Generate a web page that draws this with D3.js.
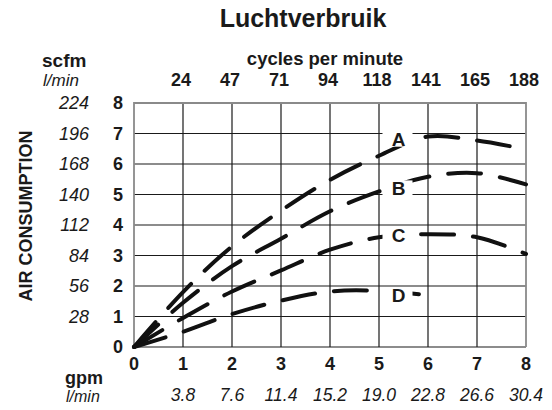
<!DOCTYPE html>
<html>
<head>
<meta charset="utf-8">
<script src="https://cdn.jsdelivr.net/npm/d3@7"></script>
<style>
body { margin: 0; background: #fff; }
text { font-family: "Liberation Sans", Arial, Helvetica, sans-serif; fill: #1a1a1a; }
</style>
</head>
<body>
<svg id="chart"></svg>
<script>
var gpm = [0, 1, 2, 3, 4, 5, 6, 7, 8];
var gpmLpm = ["3.8", "7.6", "11.4", "15.2", "19.0", "22.8", "26.6", "30.4"];
var cpm = ["24", "47", "71", "94", "118", "141", "165", "188"];
var scfm = [0, 1, 2, 3, 4, 5, 6, 7, 8];
var scfmLpm = ["28", "56", "84", "112", "140", "168", "196", "224"];

var curveA = [0, 1.8, 3.3, 4.47, 5.48, 6.27, 6.9, 6.77, 6.48];
var curveB = [0, 1.45, 2.65, 3.55, 4.45, 5.1, 5.58, 5.7, 5.33];
var curveC = [0, 0.95, 1.82, 2.51, 3.19, 3.6, 3.7, 3.6, 3.05];
var curveD = [0, 0.5, 1.08, 1.52, 1.82, 1.84, 1.7];

var labels = [
    {name: "A", x: 5.5, y: 6.83},
    {name: "B", x: 5.5, y: 5.2},
    {name: "C", x: 5.5, y: 3.66},
    {name: "D", x: 5.5, y: 1.69}
];

var width = 552;
var height = 410;

var svg = d3.select("svg#chart")
    .attr("width", width)
    .attr("height", height);

var x = d3.scaleLinear().domain([0, 8]).range([134, 526]);
var y = d3.scaleLinear().domain([0, 8]).range([347, 103]);

// grid
var grid = svg.append("g");
grid.selectAll("line.v")
    .data(gpm.slice(1, 8))
    .enter().append("line")
    .attr("x1", function(d) { return x(d); })
    .attr("x2", function(d) { return x(d); })
    .attr("y1", y(0))
    .attr("y2", y(8))
    .style("stroke", "#1a1a1a")
    .style("stroke-width", 1.2);
grid.selectAll("line.h")
    .data(scfm.slice(0, 8))
    .enter().append("line")
    .attr("x1", x(0))
    .attr("x2", x(8))
    .attr("y1", function(d) { return y(d); })
    .attr("y2", function(d) { return y(d); })
    .style("stroke", "#1a1a1a")
    .style("stroke-width", 1.2);
// frame left / top / right
svg.append("path")
    .attr("d", "M" + x(0) + "," + y(0) + "V" + y(8) + "H" + x(8) + "V" + y(0))
    .style("fill", "none")
    .style("stroke", "#8a8a8a")
    .style("stroke-width", 1.8);

// curves
var line = d3.line()
    .x(function(d, i) { return x(i); })
    .y(function(d) { return y(d); })
    .curve(d3.curveCatmullRom);

[curveA, curveB, curveC, curveD].forEach(function(c) {
    svg.append("path")
        .attr("d", line(c))
        .style("fill", "none")
        .style("stroke", "#111")
        .style("stroke-width", 4)
        .style("stroke-linecap", "round")
        .style("stroke-dasharray", "33,19");
});

// curve labels
labels.forEach(function(l) {
    svg.append("rect")
        .attr("x", x(l.x) - 21)
        .attr("y", y(l.y) - 8)
        .attr("width", 30)
        .attr("height", 16)
        .style("fill", "#fff");
    svg.append("text")
        .attr("x", x(l.x) - 5)
        .attr("y", y(l.y) + 7)
        .attr("text-anchor", "middle")
        .attr("font-size", 19)
        .attr("font-weight", "bold")
        .text(l.name);
});

// title
svg.append("text")
    .attr("x", 303)
    .attr("y", 27)
    .attr("text-anchor", "middle")
    .attr("font-size", 25)
    .attr("font-weight", "bold")
    .text("Luchtverbruik");

// top axis
svg.append("text")
    .attr("x", 325)
    .attr("y", 65)
    .attr("text-anchor", "middle")
    .attr("font-size", 18.5)
    .attr("font-weight", "bold")
    .text("cycles per minute");
svg.selectAll("text.cpm")
    .data(cpm)
    .enter().append("text")
    .attr("x", function(d, i) { return x(i + 1) - 2; })
    .attr("y", 86)
    .attr("text-anchor", "middle")
    .attr("font-size", 18)
    .attr("font-weight", "bold")
    .text(function(d) { return d; });

// left axis
svg.selectAll("text.scfm")
    .data(scfm)
    .enter().append("text")
    .attr("x", 118)
    .attr("y", function(d) { return y(d) + 6; })
    .attr("text-anchor", "middle")
    .attr("font-size", 18)
    .attr("font-weight", "bold")
    .text(function(d) { return d; });
svg.selectAll("text.slpm")
    .data(scfmLpm)
    .enter().append("text")
    .attr("x", 89)
    .attr("y", function(d, i) { return y(i + 1) + 6; })
    .attr("text-anchor", "end")
    .attr("font-size", 18)
    .attr("font-style", "italic")
    .text(function(d) { return d; });
svg.append("text")
    .attr("x", 42)
    .attr("y", 67)
    .attr("font-size", 19)
    .attr("font-weight", "bold")
    .text("scfm");
svg.append("text")
    .attr("x", 43)
    .attr("y", 86)
    .attr("font-size", 17)
    .attr("font-style", "italic")
    .text("l/min");
svg.append("text")
    .attr("transform", "translate(32,216) rotate(-90)")
    .attr("text-anchor", "middle")
    .attr("font-size", 18)
    .attr("font-weight", "bold")
    .text("AIR CONSUMPTION");

// bottom axis
svg.selectAll("text.gpm")
    .data(gpm)
    .enter().append("text")
    .attr("x", function(d) { return x(d); })
    .attr("y", 370)
    .attr("text-anchor", "middle")
    .attr("font-size", 18)
    .attr("font-weight", "bold")
    .text(function(d) { return d; });
svg.selectAll("text.glpm")
    .data(gpmLpm)
    .enter().append("text")
    .attr("x", function(d, i) { return x(i + 1); })
    .attr("y", 401)
    .attr("text-anchor", "middle")
    .attr("font-size", 17.5)
    .attr("font-style", "italic")
    .text(function(d) { return d; });
svg.append("text")
    .attr("x", 65)
    .attr("y", 384)
    .attr("font-size", 18)
    .attr("font-weight", "bold")
    .text("gpm");
svg.append("text")
    .attr("x", 66)
    .attr("y", 402)
    .attr("font-size", 16)
    .attr("font-style", "italic")
    .text("l/min");
</script>
</body>
</html>
